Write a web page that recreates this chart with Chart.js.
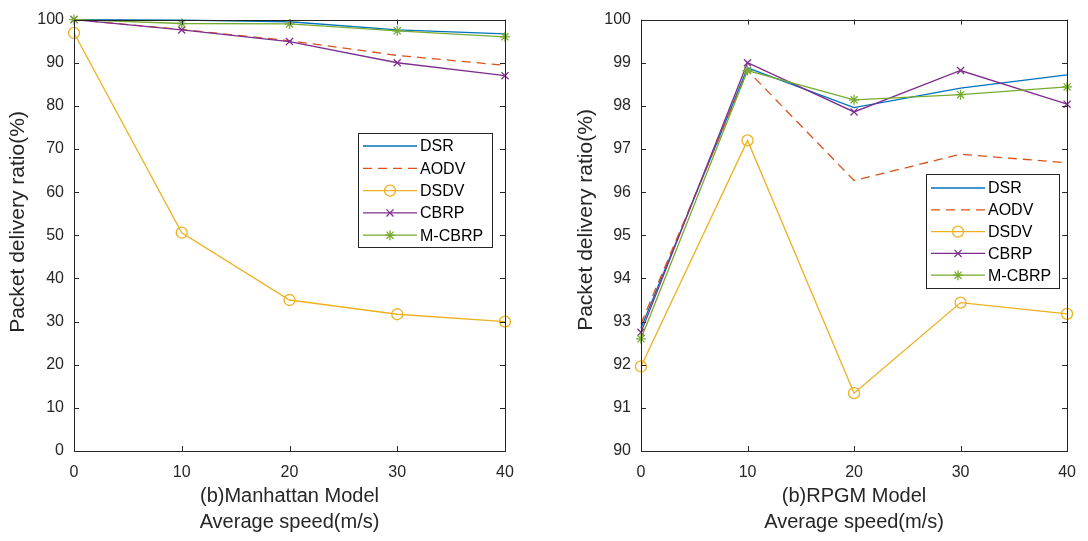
<!DOCTYPE html>
<html>
<head>
<meta charset="utf-8">
<script src="https://cdn.jsdelivr.net/npm/chart.js@4.4.0/dist/chart.umd.min.js"></script>
<style>
  body { margin: 0; background: #fff; }
  .wrap { position: relative; width: 1088px; height: 541px; }
  canvas { position: absolute; top: 0; }
</style>
</head>
<body>
<div class="wrap">
  <canvas id="manChart" width="544" height="541" style="left:0"></canvas>
  <canvas id="rpgmChart" width="544" height="541" style="left:544px"></canvas>
</div>
<script>
// x values (average speed, m/s)
var speeds = [0, 10, 20, 30, 40];
var protocols = ['DSR', 'AODV', 'DSDV', 'CBRP', 'M-CBRP'];

// (b) Manhattan model
var manDSR   = [100, 99.9, 99.5, 97.6, 96.7];
var manAODV  = [100, 97.7, 95.1, 91.7, 89.4];
var manDSDV  = [96.9, 50.6, 35.0, 31.7, 30.0];
var manCBRP  = [100, 97.6, 94.9, 90.0, 87.0];
var manMCBRP = [100, 99.1, 99.0, 97.4, 96.0];

// (b) RPGM model
var rpDSR   = [92.85, 98.88, 97.96, 98.41, 98.72];
var rpAODV  = [92.95, 98.82, 96.27, 96.88, 96.68];
var rpDSDV  = [91.96, 97.2, 91.34, 93.44, 93.18];
var rpCBRP  = [92.75, 99.0, 97.86, 98.82, 98.04];
var rpMCBRP = [92.6, 98.82, 98.14, 98.26, 98.44];

var manTicks = [0, 10, 20, 30, 40, 50, 60, 70, 80, 90, 100];
var rpTicks = [90, 91, 92, 93, 94, 95, 96, 97, 98, 99, 100];

var colors = ['#0072BD', '#D95319', '#EDB120', '#7E2F8E', '#77AC30'];
var markers = [false, false, 'circle', 'crossRot', 'star'];
var markerSize = [0, 0, 5.5, 5, 5];
var dashes = [[], [9, 6], [], [], []];
var axisColor = '#262626';
var fontFamily = "'Liberation Sans', Arial, sans-serif";

Chart.defaults.font.family = fontFamily;
Chart.defaults.color = axisColor;

function makeDatasets(series) {
  return series.map(function(vals, i) {
    return {
      label: protocols[i],
      data: vals.map(function(v, j) { return { x: speeds[j], y: v }; }),
      borderColor: colors[i],
      backgroundColor: 'rgba(0,0,0,0)',
      borderWidth: 1.3,
      borderDash: dashes[i],
      pointStyle: markers[i] || 'circle',
      pointRadius: markerSize[i],
      pointBorderColor: colors[i],
      pointBorderWidth: 1.3,
      pointBackgroundColor: 'rgba(0,0,0,0)',
      tension: 0,
      clip: false,
      order: 10 - i
    };
  });
}

// axes box with inward ticks, MATLAB style
var boxPlugin = {
  id: 'boxAxes',
  afterDatasetsDraw: function(chart) {
    var ctx = chart.ctx, a = chart.chartArea;
    var xs = chart.scales.x, ys = chart.scales.y;
    ctx.save();
    ctx.strokeStyle = axisColor;
    ctx.lineWidth = 1;
    ctx.strokeRect(Math.round(a.left) + 0.5, Math.round(a.top) + 0.5,
                   Math.round(a.right - a.left), Math.round(a.bottom - a.top));
    var len = 5;
    ctx.beginPath();
    xs.ticks.forEach(function(t) {
      var px = Math.round(xs.getPixelForValue(t.value)) + 0.5;
      ctx.moveTo(px, a.bottom); ctx.lineTo(px, a.bottom - len);
      ctx.moveTo(px, a.top); ctx.lineTo(px, a.top + len);
    });
    ys.ticks.forEach(function(t) {
      var py = Math.round(ys.getPixelForValue(t.value)) + 0.5;
      ctx.moveTo(a.left, py); ctx.lineTo(a.left + len, py);
      ctx.moveTo(a.right, py); ctx.lineTo(a.right - len, py);
    });
    ctx.stroke();
    ctx.restore();
  }
};

// rotated y label, placed like the MATLAB one
var yLabelPlugin = {
  id: 'yLabel',
  afterDraw: function(chart, args, opts) {
    var ctx = chart.ctx;
    ctx.save();
    ctx.translate(opts.x, opts.y);
    ctx.rotate(-Math.PI / 2);
    ctx.font = '21px ' + fontFamily;
    ctx.fillStyle = axisColor;
    ctx.textAlign = 'center';
    ctx.textBaseline = 'middle';
    ctx.fillText(opts.text, 0, 0);
    ctx.restore();
  }
};

// legend box drawn inside the plot
var legendPlugin = {
  id: 'boxLegend',
  afterDraw: function(chart, args, opts) {
    var ctx = chart.ctx;
    ctx.save();
    ctx.fillStyle = '#fff';
    ctx.fillRect(opts.x, opts.y, opts.w, opts.h);
    ctx.strokeStyle = axisColor;
    ctx.lineWidth = 1;
    ctx.strokeRect(opts.x + 0.5, opts.y + 0.5, opts.w, opts.h);
    ctx.font = '16px ' + fontFamily;
    ctx.textBaseline = 'middle';
    ctx.textAlign = 'left';
    chart.data.datasets.forEach(function(ds, i) {
      var y = opts.rowTop + i * opts.rowStep;
      ctx.strokeStyle = ds.borderColor;
      ctx.lineWidth = 1.3;
      ctx.setLineDash(ds.borderDash);
      ctx.beginPath();
      ctx.moveTo(opts.x + 5, y);
      ctx.lineTo(opts.x + 59, y);
      ctx.stroke();
      ctx.setLineDash([]);
      if (ds.pointRadius > 0) {
        ctx.lineWidth = 1.3;
        ctx.fillStyle = 'rgba(0,0,0,0)';
        Chart.helpers.drawPoint(ctx, { pointStyle: ds.pointStyle, radius: ds.pointRadius, borderWidth: 1.3, rotation: 0 }, opts.x + 32, y);
      }
      ctx.fillStyle = '#000';
      ctx.fillText(ds.label, opts.x + 62, y + 1);
    });
    ctx.restore();
  }
};

function makeChart(id, series, yMin, yMax, yStep, xTitle, yWidth, padR, yLabel, legend) {
  return new Chart(document.getElementById(id).getContext('2d'), {
    type: 'line',
    data: { datasets: makeDatasets(series) },
    options: {
      responsive: false,
      animation: false,
      layout: { padding: { left: 0, right: padR, top: 12, bottom: 0 } },
      plugins: {
        legend: { display: false },
        tooltip: { enabled: false },
        boxLegend: legend,
        yLabel: yLabel
      },
      scales: {
        x: {
          type: 'linear',
          min: 0, max: 40,
          border: { display: false },
          grid: { display: false, drawTicks: false },
          ticks: { stepSize: 10, padding: 12, font: { size: 16 }, color: axisColor, maxRotation: 0 },
          title: { display: true, text: xTitle, font: { size: 20, lineHeight: 1.3 }, color: axisColor, padding: { top: 0, bottom: 6 } },
          afterFit: function(s) { s.height = 90; }
        },
        y: {
          min: yMin, max: yMax,
          border: { display: false },
          grid: { display: false, drawTicks: false },
          ticks: { stepSize: yStep, padding: 10, font: { size: 16 }, color: axisColor },
          afterFit: function(s) { s.width = yWidth; }
        }
      }
    },
    plugins: [boxPlugin, yLabelPlugin, legendPlugin]
  });
}

makeChart('manChart', [manDSR, manAODV, manDSDV, manCBRP, manMCBRP],
  manTicks[0], manTicks[manTicks.length - 1], 10,
  ['(b)Manhattan Model', 'Average speed(m/s)'], 74, 39,
  { text: 'Packet delivery ratio(%)', x: 18, y: 222 },
  { x: 358, y: 133, w: 134, h: 114, rowTop: 146, rowStep: 22.3 });

makeChart('rpgmChart', [rpDSR, rpAODV, rpDSDV, rpCBRP, rpMCBRP],
  rpTicks[0], rpTicks[rpTicks.length - 1], 1,
  ['(b)RPGM Model', 'Average speed(m/s)'], 97, 18,
  { text: 'Packet delivery ratio(%)', x: 42, y: 220 },
  { x: 382, y: 174, w: 133, h: 114, rowTop: 188, rowStep: 21.8 });
</script>
</body>
</html>
